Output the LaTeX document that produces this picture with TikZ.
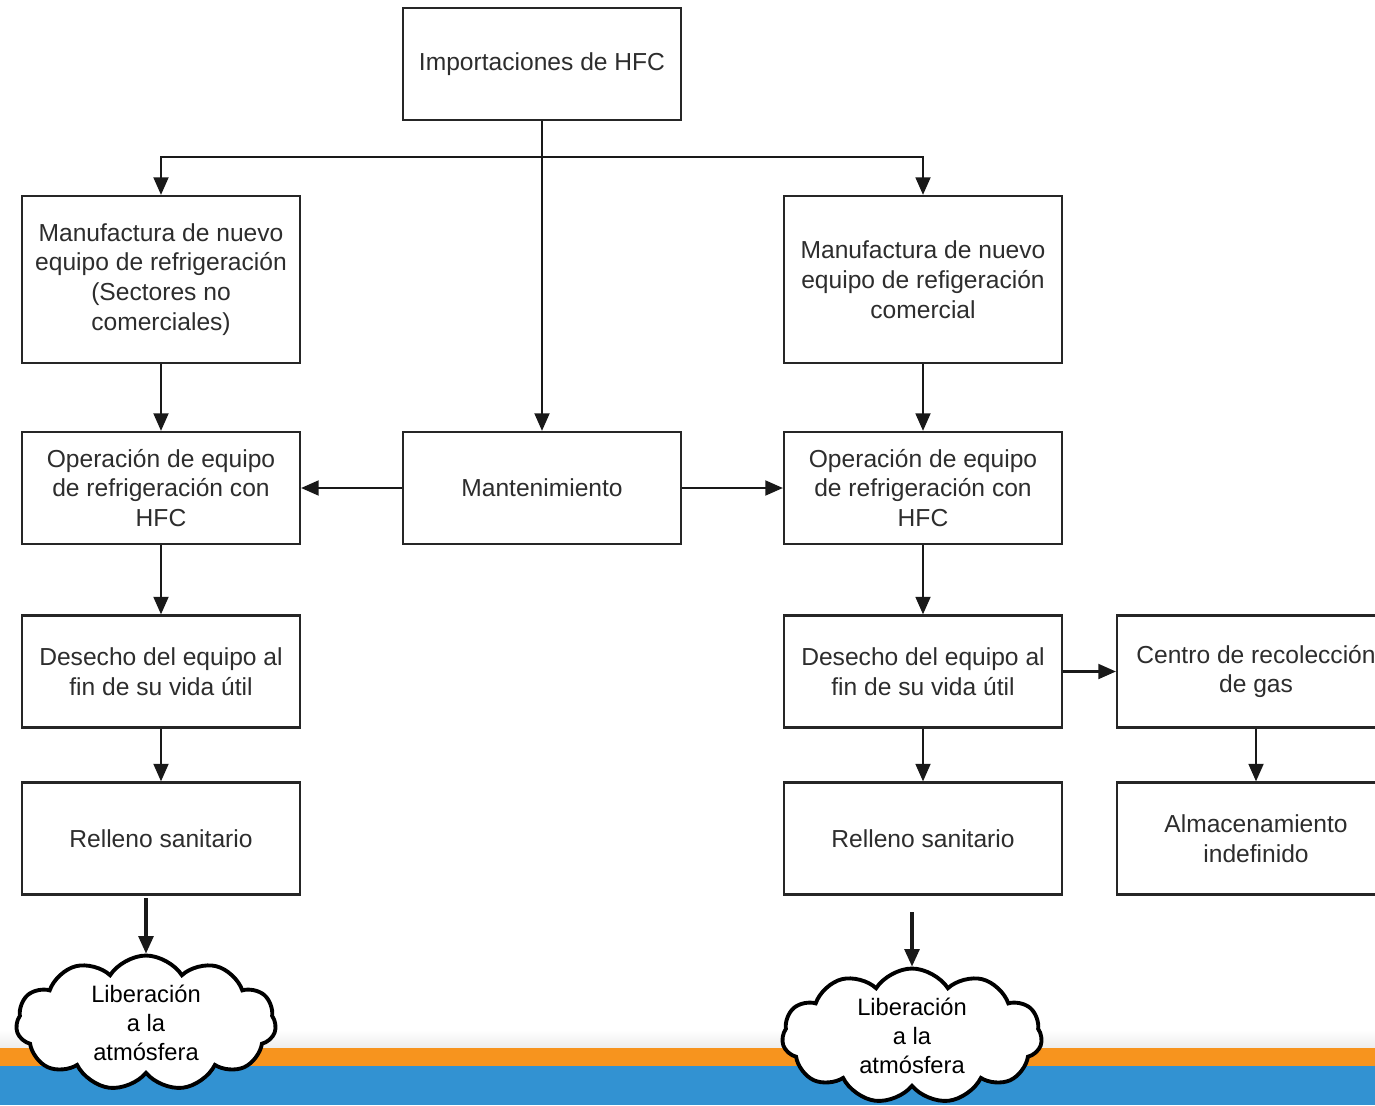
\documentclass[tikz,border=0pt]{standalone}
\usepackage{fontspec}
\setmainfont{Liberation Sans}
\usetikzlibrary{shapes.symbols, arrows.meta, positioning, calc}
\definecolor{boxtext}{RGB}{45,45,45}
\definecolor{bandorange}{RGB}{247,148,30}
\definecolor{bandblue}{RGB}{50,146,210}

\begin{document}
\begin{tikzpicture}[x=0.02cm, y=-0.02cm,
  box/.style={draw=black!85, line width=1.3pt, fill=white, minimum width=5.56cm,
              minimum height=2.24cm, align=center, text=boxtext,
              font=\fontsize{14}{17}\selectfont, inner sep=2pt},
  tallbox/.style={box, minimum height=3.34cm},
  arr/.style={-{Triangle[length=10pt, width=8.5pt]}, line width=1.2pt, black!90},
  puff/.style={cloud, cloud puffs=11, cloud puff arc=115, cloud ignores aspect,
               draw, line width=2.2pt, fill=white, minimum width=5.2cm,
               minimum height=2.7cm, align=center,
               font=\fontsize{13.5}{16.5}\selectfont, inner sep=0pt}
]
  \clip (0,0) rectangle (1375,1105);

  % bottom band
  \shade[top color=white, bottom color=black!7] (0,1030) rectangle (1375,1048);
  \fill[bandorange] (0,1048) rectangle (1375,1066);
  \fill[bandblue] (0,1066) rectangle (1375,1105);

  \node[box] (imp) at (542,64) {Importaciones de HFC};

  \node[tallbox] (manL) at (161,279.5) {Manufactura de nuevo\\equipo de refrigeración\\(Sectores no\\comerciales)};
  \node[box] (opL) at (161,488) {Operación de equipo\\de refrigeración con\\HFC};
  \node[box] (desL) at (161,671.5) {Desecho del equipo al\\fin de su vida útil};
  \node[box] (relL) at (161,838.5) {Relleno sanitario};

  \node[box] (mant) at (542,488) {Mantenimiento};

  \node[tallbox] (manR) at (923,279.5) {Manufactura de nuevo\\equipo de refigeración\\comercial};
  \node[box] (opR) at (923,488) {Operación de equipo\\de refrigeración con\\HFC};
  \node[box] (desR) at (923,671.5) {Desecho del equipo al\\fin de su vida útil};
  \node[box] (relR) at (923,838.5) {Relleno sanitario};

  \node[box] (centro) at (1256,671.5) {Centro de recolección\\de gas};
  \node[box] (almac) at (1256,838.5) {Almacenamiento\\indefinido};

  \node[puff] (cloudL) at (146,1023) {Liberación\\a la\\atmósfera};
  \node[puff] (cloudR) at (912,1036) {Liberación\\a la\\atmósfera};

  \coordinate (split) at (542,157);
  \coordinate (dropL) at (146,898);
  \coordinate (dropR) at (912,912);

  \draw[arr] (imp) -- (mant);
  \draw[arr] (split) -| (manL.north);
  \draw[arr] (split) -| (manR.north);

  \draw[arr] (manL) -- (opL);
  \draw[arr] (opL) -- (desL);
  \draw[arr] (desL) -- (relL);

  \draw[arr] (mant) -- (opL);
  \draw[arr] (mant) -- (opR);

  \draw[arr] (manR) -- (opR);
  \draw[arr] (opR) -- (desR);
  \draw[arr] (desR) -- (relR);
  \draw[arr] (desR) -- (centro);
  \draw[arr] (centro) -- (almac);

  \draw[arr, line width=1.8pt] (dropL) -- (dropL |- cloudL.north);
  \draw[arr, line width=1.8pt] (dropR) -- (dropR |- cloudR.north);
\end{tikzpicture}
\end{document}
